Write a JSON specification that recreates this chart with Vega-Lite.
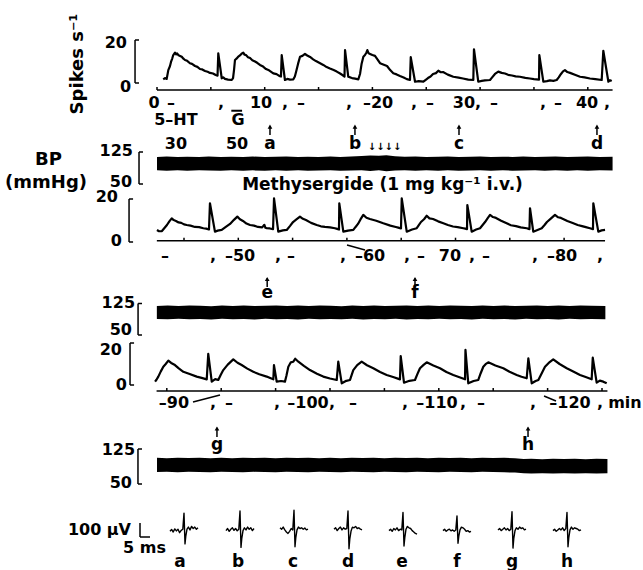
{
"$schema": "https://vega.github.io/schema/vega-lite/v6.json",
"padding": 0,
"spacing": 0,
"bounds": "flush",
"background": "white",
"config": {
 "view": {"stroke": null},
 "axis": {"disable": true},
 "legend": {"disable": true},
 "text": {"font": "DejaVu Sans", "fontWeight": "bold", "fontSize": 16, "color": "#000", "baseline": "middle"},
 "rule": {"color": "#000", "strokeWidth": 1.5},
 "line": {"color": "#000"},
 "area": {"color": "#000"},
 "point": {"color": "#000", "filled": true, "opacity": 1}
},
"datasets": {
 "r1": [{"t":0.58,"rate":1.7},{"t":0.74,"rate":2.3},{"t":0.9,"rate":1.9},{"t":1.05,"rate":6.0},{"t":1.2,"rate":7.8},{"t":1.3,"rate":9.8},{"t":1.42,"rate":11.5},{"t":1.51,"rate":13.0},{"t":1.67,"rate":14.1},{"t":1.78,"rate":13.3},{"t":1.86,"rate":13.8},{"t":2.0,"rate":12.9},{"t":2.14,"rate":12.6},{"t":2.3,"rate":12.2},{"t":2.45,"rate":11.3},{"t":2.6,"rate":10.7},{"t":2.8,"rate":10.3},{"t":3.06,"rate":9.2},{"t":3.25,"rate":8.9},{"t":3.53,"rate":7.9},{"t":3.75,"rate":7.5},{"t":3.99,"rate":6.5},{"t":4.2,"rate":6.3},{"t":4.46,"rate":5.6},{"t":4.7,"rate":5.2},{"t":4.92,"rate":4.7},{"t":5.2,"rate":4.4},{"t":5.45,"rate":3.7},{"t":5.62,"rate":3.4},{"t":5.69,"rate":13.8},{"t":6.01,"rate":2.2},{"t":6.15,"rate":2.6},{"t":6.31,"rate":1.9},{"t":6.6,"rate":1.6},{"t":6.94,"rate":1.4},{"t":7.06,"rate":2.3},{"t":7.15,"rate":6.0},{"t":7.24,"rate":10.7},{"t":7.38,"rate":11.3},{"t":7.52,"rate":12.1},{"t":7.7,"rate":12.8},{"t":7.85,"rate":13.6},{"t":8.01,"rate":14.1},{"t":8.12,"rate":13.2},{"t":8.26,"rate":13.0},{"t":8.45,"rate":12.0},{"t":8.64,"rate":11.6},{"t":8.85,"rate":10.6},{"t":9.1,"rate":10.0},{"t":9.3,"rate":9.4},{"t":9.56,"rate":8.4},{"t":9.8,"rate":7.8},{"t":10.12,"rate":6.5},{"t":10.4,"rate":5.9},{"t":10.8,"rate":4.5},{"t":11.1,"rate":4.1},{"t":11.35,"rate":3.3},{"t":11.51,"rate":3.0},{"t":11.58,"rate":13.0},{"t":11.88,"rate":1.4},{"t":12.1,"rate":1.9},{"t":12.35,"rate":1.6},{"t":12.66,"rate":1.7},{"t":12.8,"rate":3.0},{"t":12.91,"rate":5.1},{"t":13.1,"rate":9.0},{"t":13.28,"rate":12.2},{"t":13.5,"rate":12.6},{"t":13.74,"rate":13.5},{"t":13.95,"rate":12.8},{"t":14.21,"rate":12.1},{"t":14.5,"rate":11.0},{"t":14.76,"rate":10.2},{"t":15.1,"rate":9.3},{"t":15.44,"rate":8.4},{"t":15.75,"rate":7.4},{"t":16.06,"rate":6.7},{"t":16.4,"rate":6.0},{"t":16.69,"rate":5.3},{"t":17.0,"rate":4.4},{"t":17.25,"rate":3.6},{"t":17.41,"rate":3.0},{"t":17.46,"rate":15.3},{"t":17.76,"rate":2.9},{"t":17.95,"rate":2.6},{"t":18.11,"rate":2.3},{"t":18.4,"rate":2.0},{"t":18.69,"rate":1.7},{"t":18.85,"rate":4.2},{"t":19.0,"rate":9.0},{"t":19.16,"rate":12.2},{"t":19.31,"rate":13.0},{"t":19.45,"rate":14.2},{"t":19.53,"rate":15.3},{"t":19.65,"rate":13.8},{"t":19.78,"rate":13.5},{"t":20.0,"rate":13.0},{"t":20.24,"rate":12.6},{"t":20.5,"rate":10.8},{"t":20.71,"rate":9.2},{"t":21.0,"rate":8.6},{"t":21.36,"rate":7.9},{"t":21.65,"rate":6.0},{"t":21.94,"rate":4.5},{"t":22.25,"rate":4.0},{"t":22.56,"rate":3.3},{"t":22.9,"rate":2.6},{"t":23.2,"rate":1.8},{"t":23.49,"rate":1.4},{"t":23.56,"rate":12.0},{"t":23.96,"rate":0.6},{"t":24.3,"rate":0.9},{"t":24.73,"rate":0.6},{"t":24.95,"rate":1.5},{"t":25.16,"rate":2.3},{"t":25.4,"rate":3.0},{"t":25.63,"rate":4.2},{"t":25.9,"rate":4.6},{"t":26.12,"rate":5.7},{"t":26.35,"rate":5.0},{"t":26.56,"rate":5.1},{"t":27.0,"rate":3.9},{"t":27.51,"rate":2.9},{"t":28.0,"rate":2.5},{"t":28.41,"rate":2.1},{"t":28.9,"rate":1.6},{"t":29.37,"rate":1.4},{"t":29.43,"rate":15.7},{"t":29.83,"rate":0.6},{"t":30.15,"rate":1.0},{"t":30.45,"rate":1.2},{"t":30.92,"rate":1.4},{"t":31.1,"rate":2.5},{"t":31.38,"rate":4.2},{"t":31.69,"rate":5.3},{"t":32.0,"rate":4.7},{"t":32.31,"rate":4.4},{"t":32.6,"rate":3.8},{"t":32.96,"rate":3.5},{"t":33.3,"rate":3.1},{"t":33.7,"rate":2.9},{"t":34.2,"rate":2.4},{"t":34.63,"rate":2.1},{"t":35.0,"rate":1.8},{"t":35.47,"rate":1.6},{"t":35.5,"rate":13.0},{"t":35.87,"rate":0.6},{"t":36.2,"rate":0.9},{"t":36.49,"rate":1.2},{"t":36.8,"rate":1.0},{"t":37.11,"rate":1.4},{"t":37.3,"rate":2.6},{"t":37.51,"rate":4.2},{"t":37.7,"rate":5.4},{"t":37.88,"rate":6.0},{"t":38.1,"rate":5.1},{"t":38.35,"rate":4.7},{"t":38.8,"rate":3.8},{"t":39.28,"rate":2.9},{"t":39.7,"rate":2.6},{"t":40.2,"rate":2.1},{"t":40.7,"rate":1.8},{"t":41.29,"rate":1.4},{"t":41.44,"rate":15.0},{"t":41.91,"rate":0.6},{"t":42.05,"rate":1.3},{"t":42.22,"rate":0.9}],
 "r2": [{"t":42.51,"rate":5.6},{"t":42.7,"rate":5.0},{"t":42.97,"rate":5.1},{"t":43.2,"rate":6.5},{"t":43.43,"rate":7.9},{"t":43.65,"rate":9.6},{"t":43.87,"rate":11.0},{"t":44.05,"rate":10.2},{"t":44.26,"rate":9.8},{"t":44.5,"rate":9.1},{"t":44.75,"rate":8.9},{"t":45.0,"rate":8.2},{"t":45.25,"rate":7.9},{"t":45.6,"rate":7.6},{"t":46.01,"rate":7.0},{"t":46.4,"rate":6.9},{"t":46.78,"rate":6.4},{"t":47.05,"rate":6.2},{"t":47.3,"rate":5.8},{"t":47.39,"rate":18.0},{"t":47.85,"rate":4.8},{"t":48.1,"rate":5.3},{"t":48.47,"rate":5.6},{"t":48.85,"rate":7.0},{"t":49.24,"rate":8.4},{"t":49.6,"rate":10.3},{"t":49.91,"rate":11.8},{"t":50.15,"rate":10.6},{"t":50.43,"rate":9.8},{"t":50.75,"rate":8.6},{"t":51.08,"rate":7.9},{"t":51.45,"rate":7.6},{"t":51.81,"rate":7.0},{"t":52.2,"rate":6.8},{"t":52.4,"rate":8.0},{"t":52.5,"rate":6.6},{"t":52.62,"rate":6.4},{"t":52.9,"rate":6.3},{"t":53.2,"rate":6.0},{"t":53.29,"rate":20.3},{"t":53.68,"rate":4.8},{"t":54.1,"rate":5.4},{"t":54.46,"rate":5.6},{"t":54.75,"rate":7.4},{"t":55.04,"rate":9.3},{"t":55.35,"rate":10.5},{"t":55.68,"rate":11.8},{"t":55.95,"rate":10.8},{"t":56.23,"rate":10.2},{"t":56.7,"rate":8.9},{"t":57.22,"rate":7.9},{"t":57.6,"rate":7.3},{"t":57.98,"rate":7.0},{"t":58.45,"rate":6.8},{"t":58.9,"rate":6.4},{"t":59.1,"rate":6.1},{"t":59.27,"rate":5.8},{"t":59.3,"rate":18.0},{"t":59.67,"rate":4.8},{"t":60.1,"rate":5.3},{"t":60.59,"rate":5.6},{"t":60.8,"rate":7.0},{"t":61.02,"rate":8.4},{"t":61.25,"rate":10.5},{"t":61.51,"rate":12.6},{"t":61.8,"rate":11.3},{"t":62.12,"rate":10.7},{"t":62.7,"rate":9.9},{"t":63.35,"rate":8.7},{"t":64.0,"rate":7.6},{"t":64.5,"rate":7.0},{"t":64.73,"rate":6.7},{"t":64.98,"rate":6.3},{"t":65.05,"rate":20.3},{"t":65.51,"rate":4.8},{"t":66.0,"rate":5.8},{"t":66.43,"rate":6.4},{"t":66.62,"rate":7.8},{"t":66.82,"rate":9.3},{"t":67.1,"rate":10.6},{"t":67.35,"rate":12.2},{"t":67.6,"rate":11.0},{"t":67.93,"rate":10.7},{"t":68.4,"rate":9.6},{"t":68.88,"rate":8.7},{"t":69.3,"rate":7.9},{"t":69.77,"rate":7.2},{"t":70.2,"rate":6.9},{"t":70.72,"rate":6.4},{"t":70.9,"rate":6.2},{"t":71.06,"rate":6.0},{"t":71.09,"rate":17.2},{"t":71.49,"rate":4.8},{"t":71.9,"rate":5.8},{"t":72.26,"rate":6.4},{"t":72.5,"rate":7.9},{"t":72.72,"rate":9.3},{"t":72.95,"rate":11.0},{"t":73.18,"rate":12.6},{"t":73.45,"rate":11.6},{"t":73.73,"rate":11.2},{"t":74.2,"rate":9.9},{"t":74.71,"rate":8.7},{"t":75.1,"rate":7.8},{"t":75.57,"rate":7.4},{"t":76.0,"rate":6.8},{"t":76.56,"rate":6.4},{"t":76.81,"rate":6.0},{"t":76.86,"rate":15.7},{"t":77.16,"rate":4.8},{"t":77.55,"rate":5.6},{"t":77.94,"rate":6.4},{"t":78.2,"rate":7.9},{"t":78.42,"rate":9.3},{"t":78.8,"rate":11.0},{"t":79.16,"rate":12.6},{"t":79.45,"rate":11.5},{"t":79.71,"rate":11.2},{"t":80.3,"rate":9.8},{"t":80.85,"rate":8.7},{"t":81.25,"rate":7.9},{"t":81.65,"rate":7.4},{"t":82.0,"rate":6.9},{"t":82.38,"rate":6.4},{"t":82.66,"rate":6.0},{"t":82.69,"rate":18.0},{"t":83.15,"rate":4.8},{"t":83.45,"rate":5.4},{"t":83.77,"rate":5.6}],
 "r3": [{"t":83.92,"rate":1.6},{"t":84.05,"rate":2.5},{"t":84.22,"rate":4.0},{"t":84.45,"rate":6.5},{"t":84.68,"rate":8.7},{"t":84.9,"rate":10.0},{"t":85.14,"rate":11.6},{"t":85.4,"rate":10.5},{"t":85.75,"rate":9.5},{"t":86.1,"rate":7.9},{"t":86.52,"rate":6.3},{"t":87.1,"rate":5.2},{"t":87.75,"rate":4.0},{"t":88.2,"rate":3.4},{"t":88.67,"rate":2.7},{"t":88.81,"rate":14.8},{"t":89.13,"rate":1.6},{"t":89.45,"rate":2.8},{"t":89.73,"rate":2.4},{"t":89.95,"rate":4.8},{"t":90.19,"rate":7.1},{"t":90.6,"rate":9.7},{"t":91.11,"rate":12.2},{"t":91.5,"rate":10.6},{"t":91.88,"rate":9.5},{"t":92.4,"rate":7.8},{"t":92.95,"rate":6.3},{"t":93.5,"rate":5.1},{"t":94.18,"rate":4.0},{"t":94.5,"rate":3.3},{"t":94.79,"rate":2.7},{"t":94.85,"rate":9.5},{"t":95.1,"rate":1.6},{"t":95.5,"rate":1.9},{"t":95.86,"rate":1.6},{"t":96.0,"rate":4.5},{"t":96.17,"rate":8.7},{"t":96.4,"rate":10.8},{"t":96.63,"rate":11.1},{"t":96.8,"rate":12.5},{"t":97.09,"rate":11.1},{"t":97.6,"rate":9.1},{"t":98.16,"rate":7.1},{"t":98.8,"rate":5.4},{"t":99.38,"rate":4.0},{"t":100.0,"rate":3.1},{"t":100.62,"rate":2.4},{"t":100.76,"rate":11.1},{"t":101.08,"rate":0.8},{"t":101.5,"rate":2.0},{"t":101.84,"rate":2.4},{"t":102.14,"rate":7.1},{"t":102.5,"rate":9.5},{"t":102.91,"rate":11.1},{"t":103.4,"rate":9.4},{"t":103.98,"rate":8.0},{"t":104.6,"rate":6.2},{"t":105.21,"rate":4.8},{"t":105.8,"rate":3.8},{"t":106.43,"rate":2.7},{"t":106.5,"rate":13.8},{"t":106.8,"rate":1.1},{"t":107.3,"rate":2.0},{"t":107.81,"rate":2.4},{"t":108.05,"rate":5.4},{"t":108.27,"rate":8.0},{"t":108.6,"rate":9.6},{"t":108.89,"rate":10.8},{"t":109.5,"rate":9.3},{"t":110.11,"rate":8.0},{"t":110.7,"rate":6.2},{"t":111.33,"rate":4.8},{"t":111.9,"rate":3.7},{"t":112.41,"rate":2.7},{"t":112.45,"rate":16.7},{"t":112.71,"rate":0.8},{"t":113.2,"rate":1.9},{"t":113.63,"rate":2.4},{"t":113.85,"rate":5.6},{"t":114.09,"rate":8.7},{"t":114.3,"rate":9.9},{"t":114.55,"rate":10.8},{"t":115.2,"rate":9.3},{"t":115.93,"rate":8.0},{"t":116.5,"rate":6.3},{"t":117.16,"rate":4.8},{"t":117.6,"rate":3.9},{"t":118.08,"rate":3.2},{"t":118.23,"rate":12.7},{"t":118.54,"rate":0.8},{"t":118.9,"rate":1.9},{"t":119.15,"rate":2.4},{"t":119.45,"rate":5.5},{"t":119.76,"rate":8.7},{"t":120.1,"rate":10.5},{"t":120.52,"rate":12.2},{"t":121.1,"rate":10.0},{"t":121.76,"rate":8.0},{"t":122.4,"rate":6.3},{"t":122.98,"rate":4.8},{"t":123.5,"rate":3.8},{"t":124.05,"rate":2.7},{"t":124.15,"rate":13.0},{"t":124.51,"rate":1.1},{"t":124.8,"rate":2.1},{"t":125.12,"rate":1.6},{"t":125.43,"rate":0.8}],
 "bp1": [{"t":0,"sys":113,"dia":82},{"t":0.9,"sys":114.5,"dia":81},{"t":1.9,"sys":113,"dia":82.5},{"t":2.8,"sys":114,"dia":81},{"t":3.9,"sys":113.5,"dia":82},{"t":4.8,"sys":114.5,"dia":81.5},{"t":5.9,"sys":113,"dia":81},{"t":6.9,"sys":114,"dia":82.5},{"t":8.0,"sys":113.5,"dia":81},{"t":8.9,"sys":114.5,"dia":82},{"t":10.0,"sys":113,"dia":81},{"t":11.0,"sys":114,"dia":82},{"t":12.0,"sys":114.5,"dia":81},{"t":13.1,"sys":113,"dia":82.5},{"t":14.0,"sys":114,"dia":81},{"t":15.0,"sys":113.5,"dia":81.5},{"t":16.1,"sys":114.5,"dia":82},{"t":17.0,"sys":113,"dia":81},{"t":18.0,"sys":114.5,"dia":81.5},{"t":19.0,"sys":115.5,"dia":82},{"t":19.8,"sys":117,"dia":80.5},{"t":20.6,"sys":116,"dia":82},{"t":21.3,"sys":117.5,"dia":80},{"t":22.1,"sys":115,"dia":81.5},{"t":23.0,"sys":114,"dia":82},{"t":24.0,"sys":114.5,"dia":81},{"t":25.0,"sys":113,"dia":82},{"t":26.1,"sys":114,"dia":81},{"t":27.0,"sys":114.5,"dia":82.5},{"t":28.0,"sys":113,"dia":81},{"t":29.1,"sys":114,"dia":81.5},{"t":30.0,"sys":114.5,"dia":82},{"t":31.0,"sys":113,"dia":81},{"t":32.1,"sys":114,"dia":82.5},{"t":33.0,"sys":113.5,"dia":81},{"t":34.0,"sys":114.5,"dia":81.5},{"t":35.1,"sys":113,"dia":82},{"t":36.0,"sys":114,"dia":81},{"t":37.0,"sys":114.5,"dia":82},{"t":38.1,"sys":113,"dia":81},{"t":39.0,"sys":114,"dia":82.5},{"t":40.0,"sys":114.5,"dia":81},{"t":41.1,"sys":113.5,"dia":82},{"t":42.3,"sys":114,"dia":81.5}],
 "bp2": [{"t":42.5,"sys":119,"dia":88},{"t":43.5,"sys":120,"dia":87.5},{"t":44.5,"sys":119,"dia":88.5},{"t":45.5,"sys":120,"dia":87.5},{"t":46.5,"sys":119.5,"dia":88},{"t":47.5,"sys":118.5,"dia":87},{"t":48.5,"sys":120,"dia":88.5},{"t":49.5,"sys":119,"dia":87.5},{"t":50.5,"sys":120,"dia":88},{"t":51.5,"sys":119,"dia":87},{"t":52.5,"sys":119.5,"dia":88.5},{"t":53.5,"sys":120,"dia":87.5},{"t":54.5,"sys":119,"dia":88},{"t":55.5,"sys":120,"dia":87},{"t":56.5,"sys":119,"dia":88.5},{"t":57.5,"sys":120,"dia":87.5},{"t":58.5,"sys":119.5,"dia":88},{"t":59.5,"sys":118.5,"dia":87.5},{"t":60.5,"sys":120,"dia":88.5},{"t":61.5,"sys":119,"dia":87},{"t":62.5,"sys":120,"dia":88},{"t":63.5,"sys":119,"dia":87.5},{"t":64.5,"sys":119.5,"dia":88.5},{"t":65.5,"sys":120,"dia":87},{"t":66.5,"sys":119,"dia":88},{"t":67.5,"sys":120,"dia":87.5},{"t":68.5,"sys":119,"dia":88.5},{"t":69.5,"sys":120,"dia":87.5},{"t":70.5,"sys":119.5,"dia":88},{"t":71.5,"sys":119,"dia":87},{"t":72.5,"sys":120,"dia":88.5},{"t":73.5,"sys":119,"dia":87.5},{"t":74.5,"sys":120,"dia":88},{"t":75.5,"sys":119,"dia":87},{"t":76.5,"sys":119.5,"dia":88.5},{"t":77.5,"sys":120,"dia":87.5},{"t":78.5,"sys":119,"dia":88},{"t":79.5,"sys":120,"dia":87},{"t":80.5,"sys":119,"dia":88.5},{"t":81.5,"sys":120,"dia":87.5},{"t":82.5,"sys":119.5,"dia":88},{"t":83.8,"sys":119,"dia":87.5}],
 "bp3": [{"t":84.1,"sys":106,"dia":75.5},{"t":85,"sys":105,"dia":76},{"t":86,"sys":106,"dia":75},{"t":87,"sys":105.5,"dia":76},{"t":88,"sys":106.5,"dia":75.5},{"t":89,"sys":105,"dia":75},{"t":90,"sys":106,"dia":76},{"t":91,"sys":105,"dia":75.5},{"t":92,"sys":106.5,"dia":75},{"t":93,"sys":105.5,"dia":76},{"t":94,"sys":106,"dia":75.5},{"t":95,"sys":105,"dia":75},{"t":96,"sys":106,"dia":76},{"t":97,"sys":105.5,"dia":75.5},{"t":98,"sys":106.5,"dia":75},{"t":99,"sys":105,"dia":76},{"t":100,"sys":106,"dia":75.5},{"t":101,"sys":105,"dia":75},{"t":102,"sys":106,"dia":76},{"t":103,"sys":105.5,"dia":75.5},{"t":104,"sys":106.5,"dia":75},{"t":105,"sys":105,"dia":76},{"t":106,"sys":106,"dia":75.5},{"t":107,"sys":105.5,"dia":75},{"t":108,"sys":106,"dia":76},{"t":109,"sys":105,"dia":75.5},{"t":110,"sys":106.5,"dia":75},{"t":111,"sys":105.5,"dia":76},{"t":112,"sys":106,"dia":75.5},{"t":113,"sys":105,"dia":75},{"t":114,"sys":106,"dia":76},{"t":115,"sys":105.5,"dia":75.5},{"t":116,"sys":106,"dia":75},{"t":117,"sys":105,"dia":74.5},{"t":117.8,"sys":103.5,"dia":73},{"t":118.5,"sys":104,"dia":72.5},{"t":119.5,"sys":103,"dia":73},{"t":120.5,"sys":104,"dia":72.5},{"t":121.5,"sys":103.5,"dia":73},{"t":122.5,"sys":104,"dia":72.5},{"t":123.5,"sys":103,"dia":73},{"t":124.5,"sys":104,"dia":72.5},{"t":125.5,"sys":103.5,"dia":73}],
 "ticks1": [{"t":0},{"t":5},{"t":10},{"t":15},{"t":20},{"t":25},{"t":30},{"t":35},{"t":40}],
 "ticks2": [{"t":45},{"t":50},{"t":55},{"t":60},{"t":65},{"t":70},{"t":75},{"t":80}],
 "ticks3": [{"t":85},{"t":90},{"t":95},{"t":100},{"t":105},{"t":110},{"t":115},{"t":120},{"t":125}],
 "lab1": [{"t":-0.28,"label":"0"},{"t":1.3,"label":"–"},{"t":5.94,"label":","},{"t":9.66,"label":"10"},{"t":11.88,"label":","},{"t":13.37,"label":"–"},{"t":17.83,"label":","},{"t":20.52,"label":"–20"},{"t":23.86,"label":","},{"t":25.35,"label":"–"},{"t":28.78,"label":"30,"},{"t":31.29,"label":"–"},{"t":35.84,"label":","},{"t":37.23,"label":"–"},{"t":39.93,"label":"40"},{"t":41.78,"label":","}],
 "lab2": [{"t":43.25,"label":"–"},{"t":47.67,"label":","},{"t":50.16,"label":"–50"},{"t":53.66,"label":","},{"t":54.85,"label":"–"},{"t":59.64,"label":","},{"t":62.13,"label":"–60"},{"t":65.54,"label":","},{"t":66.83,"label":"–"},{"t":69.49,"label":"70"},{"t":71.52,"label":","},{"t":72.81,"label":"–"},{"t":77.32,"label":","},{"t":79.81,"label":"–80"},{"t":83.31,"label":","}],
 "lab3": [{"t":85.66,"label":"–90"},{"t":89.25,"label":","},{"t":90.72,"label":"–"},{"t":95.13,"label":","},{"t":97.98,"label":"–100"},{"t":100.18,"label":","},{"t":102.11,"label":"–"},{"t":106.89,"label":","},{"t":109.83,"label":"–110"},{"t":112.22,"label":","},{"t":113.88,"label":"–"},{"t":118.66,"label":","},{"t":122.06,"label":"–120"},{"t":124.82,"label":","},{"t":127.11,"label":"min"}],
 "drug1": [{"t":1.76,"label":"5–HT"},{"t":7.52,"label":"G"}],
 "dose1": [{"t":1.76,"label":"30"},{"t":7.43,"label":"50"}],
 "mark1": [{"t":10.49,"label":"a"},{"t":18.38,"label":"b"},{"t":28.04,"label":"c"},{"t":40.85,"label":"d"}],
 "mark2": [{"t":52.66,"label":"e"},{"t":66.27,"label":"f"}],
 "mark3": [{"t":89.61,"label":"g"},{"t":118.2,"label":"h"}],
 "inj1": [{"t":21.13,"label":"↓↓↓↓"}],
 "waves": [
  {"w":"a","t":85,"uv":5},{"w":"a","t":85.8,"uv":18},{"w":"a","t":86.6,"uv":0},{"w":"a","t":87.4,"uv":22},{"w":"a","t":88.2,"uv":8},{"w":"a","t":89,"uv":20},{"w":"a","t":89.8,"uv":-5},{"w":"a","t":90.6,"uv":12},{"w":"a","t":91.4,"uv":20},{"w":"a","t":92,"uv":135},{"w":"a","t":92.5,"uv":-85},{"w":"a","t":92.9,"uv":-30},{"w":"a","t":93.5,"uv":20},{"w":"a","t":94.2,"uv":35},{"w":"a","t":95,"uv":15},{"w":"a","t":95.8,"uv":40},{"w":"a","t":96.6,"uv":25},{"w":"a","t":97.4,"uv":35},{"w":"a","t":98.2,"uv":20},{"w":"a","t":99,"uv":30},
  {"w":"b","t":113,"uv":10},{"w":"b","t":113.8,"uv":25},{"w":"b","t":114.6,"uv":5},{"w":"b","t":115.4,"uv":20},{"w":"b","t":116.2,"uv":30},{"w":"b","t":117,"uv":12},{"w":"b","t":117.8,"uv":25},{"w":"b","t":118.6,"uv":8},{"w":"b","t":119.4,"uv":20},{"w":"b","t":120,"uv":150},{"w":"b","t":120.5,"uv":-110},{"w":"b","t":120.9,"uv":-45},{"w":"b","t":121.5,"uv":10},{"w":"b","t":122.2,"uv":30},{"w":"b","t":123,"uv":15},{"w":"b","t":123.8,"uv":35},{"w":"b","t":124.6,"uv":20},{"w":"b","t":125.4,"uv":30},{"w":"b","t":126.2,"uv":10},{"w":"b","t":127,"uv":25},
  {"w":"c","t":140,"uv":30},{"w":"c","t":140.8,"uv":20},{"w":"c","t":141.6,"uv":35},{"w":"c","t":142.4,"uv":15},{"w":"c","t":143.2,"uv":0},{"w":"c","t":144,"uv":-10},{"w":"c","t":144.8,"uv":5},{"w":"c","t":145.6,"uv":25},{"w":"c","t":146.4,"uv":15},{"w":"c","t":147,"uv":155},{"w":"c","t":147.5,"uv":-105},{"w":"c","t":147.9,"uv":-40},{"w":"c","t":148.5,"uv":15},{"w":"c","t":149.2,"uv":35},{"w":"c","t":150,"uv":25},{"w":"c","t":150.8,"uv":30},{"w":"c","t":151.6,"uv":20},{"w":"c","t":152.4,"uv":28},{"w":"c","t":153.2,"uv":15},{"w":"c","t":154,"uv":20},
  {"w":"d","t":167,"uv":20},{"w":"d","t":167.8,"uv":30},{"w":"d","t":168.6,"uv":10},{"w":"d","t":169.4,"uv":25},{"w":"d","t":170.2,"uv":35},{"w":"d","t":171,"uv":15},{"w":"d","t":171.8,"uv":30},{"w":"d","t":172.6,"uv":20},{"w":"d","t":173.4,"uv":25},{"w":"d","t":174,"uv":150},{"w":"d","t":174.5,"uv":-120},{"w":"d","t":174.9,"uv":-50},{"w":"d","t":175.5,"uv":5},{"w":"d","t":176.2,"uv":35},{"w":"d","t":177,"uv":30},{"w":"d","t":177.8,"uv":40},{"w":"d","t":178.6,"uv":25},{"w":"d","t":179.4,"uv":30},{"w":"d","t":180.2,"uv":20},{"w":"d","t":181,"uv":15},
  {"w":"e","t":194.5,"uv":10},{"w":"e","t":195.3,"uv":20},{"w":"e","t":196.1,"uv":5},{"w":"e","t":196.9,"uv":25},{"w":"e","t":197.7,"uv":15},{"w":"e","t":198.5,"uv":30},{"w":"e","t":199.3,"uv":10},{"w":"e","t":200.1,"uv":20},{"w":"e","t":200.9,"uv":15},{"w":"e","t":201.5,"uv":140},{"w":"e","t":202,"uv":-100},{"w":"e","t":202.4,"uv":-40},{"w":"e","t":203,"uv":20},{"w":"e","t":203.7,"uv":40},{"w":"e","t":204.5,"uv":30},{"w":"e","t":205.3,"uv":25},{"w":"e","t":206.1,"uv":10},{"w":"e","t":206.9,"uv":0},{"w":"e","t":207.7,"uv":-10},{"w":"e","t":208.5,"uv":-15},
  {"w":"f","t":221.5,"uv":10},{"w":"f","t":222.3,"uv":20},{"w":"f","t":223.1,"uv":5},{"w":"f","t":223.9,"uv":15},{"w":"f","t":224.7,"uv":20},{"w":"f","t":225.5,"uv":8},{"w":"f","t":226.3,"uv":15},{"w":"f","t":227.1,"uv":5},{"w":"f","t":227.9,"uv":15},{"w":"f","t":228.5,"uv":115},{"w":"f","t":229,"uv":-80},{"w":"f","t":229.4,"uv":-30},{"w":"f","t":230,"uv":15},{"w":"f","t":230.7,"uv":35},{"w":"f","t":231.5,"uv":30},{"w":"f","t":232.3,"uv":20},{"w":"f","t":233.1,"uv":5},{"w":"f","t":233.9,"uv":10},{"w":"f","t":234.7,"uv":0},{"w":"f","t":235.5,"uv":5},
  {"w":"g","t":249,"uv":15},{"w":"g","t":249.8,"uv":25},{"w":"g","t":250.6,"uv":10},{"w":"g","t":251.4,"uv":20},{"w":"g","t":252.2,"uv":30},{"w":"g","t":253,"uv":15},{"w":"g","t":253.8,"uv":25},{"w":"g","t":254.6,"uv":10},{"w":"g","t":255.4,"uv":20},{"w":"g","t":256,"uv":145},{"w":"g","t":256.5,"uv":-115},{"w":"g","t":256.9,"uv":-45},{"w":"g","t":257.5,"uv":10},{"w":"g","t":258.2,"uv":30},{"w":"g","t":259,"uv":20},{"w":"g","t":259.8,"uv":35},{"w":"g","t":260.6,"uv":25},{"w":"g","t":261.4,"uv":30},{"w":"g","t":262.2,"uv":15},{"w":"g","t":263,"uv":20},
  {"w":"h","t":276.5,"uv":10},{"w":"h","t":277.3,"uv":20},{"w":"h","t":278.1,"uv":5},{"w":"h","t":278.9,"uv":15},{"w":"h","t":279.7,"uv":25},{"w":"h","t":280.5,"uv":15},{"w":"h","t":281.3,"uv":30},{"w":"h","t":282.1,"uv":10},{"w":"h","t":282.9,"uv":25},{"w":"h","t":283.5,"uv":140},{"w":"h","t":284,"uv":-105},{"w":"h","t":284.4,"uv":-40},{"w":"h","t":285,"uv":15},{"w":"h","t":285.7,"uv":35},{"w":"h","t":286.5,"uv":20},{"w":"h","t":287.3,"uv":30},{"w":"h","t":288.1,"uv":25},{"w":"h","t":288.9,"uv":20},{"w":"h","t":289.7,"uv":10},{"w":"h","t":290.5,"uv":15}
 ],
 "wlab": [{"t":90,"label":"a"},{"t":119,"label":"b"},{"t":146.5,"label":"c"},{"t":174,"label":"d"},{"t":201,"label":"e"},{"t":228.5,"label":"f"},{"t":256,"label":"g"},{"t":283.5,"label":"h"}],
 "one": [{"n": 1}]
},
"vconcat": [
 {
  "width": 643, "height": 152,
  "layer": [
   {"data": {"name": "r1"}, "mark": {"type": "line", "strokeWidth": 2.2, "strokeJoin": "round"}, "encoding": {"x": {"field": "t", "type": "quantitative", "scale": {"domain": [-14.578, 45.125], "nice": false, "zero": false}}, "y": {"field": "rate", "type": "quantitative", "scale": {"domain": [-32.09, 38.6], "nice": false, "zero": false}}}},
   {"data": {"name": "one"}, "mark": "rule", "encoding": {"x": {"datum": 0}, "x2": {"datum": 42.3}, "y": {"datum": -3.26}}},
   {"data": {"name": "ticks1"}, "mark": "rule", "encoding": {"x": {"field": "t", "type": "quantitative"}, "y": {"datum": -3.26}, "y2": {"datum": -1.86}}},
   {"data": {"name": "lab1"}, "mark": {"type": "text"}, "encoding": {"x": {"field": "t", "type": "quantitative"}, "text": {"field": "label"}, "y": {"datum": -9.3}}},
   {"data": {"name": "one"}, "mark": {"type": "rule", "strokeWidth": 2}, "encoding": {"x": {"datum": 6.9}, "x2": {"datum": 7.9}, "y": {"datum": -12.9}}},
   {"data": {"name": "drug1"}, "mark": {"type": "text"}, "encoding": {"x": {"field": "t", "type": "quantitative"}, "text": {"field": "label"}, "y": {"datum": -17.44}}},
   {"data": {"name": "dose1"}, "mark": {"type": "text"}, "encoding": {"x": {"field": "t", "type": "quantitative"}, "text": {"field": "label"}, "y": {"datum": -28.6}}},
   {"data": {"name": "mark1"}, "mark": "rule", "encoding": {"x": {"field": "t", "type": "quantitative"}, "y": {"datum": -20.0}, "y2": {"datum": -24.19}}},
   {"data": {"name": "mark1"}, "mark": {"type": "point", "shape": "triangle-up", "size": 22}, "encoding": {"x": {"field": "t", "type": "quantitative"}, "y": {"datum": -20.3}}},
   {"data": {"name": "mark1"}, "mark": {"type": "text", "fontSize": 17}, "encoding": {"x": {"field": "t", "type": "quantitative"}, "text": {"field": "label"}, "y": {"datum": -28.6}}},
   {"data": {"name": "inj1"}, "mark": {"type": "text", "fontSize": 10}, "encoding": {"x": {"field": "t", "type": "quantitative"}, "text": {"field": "label"}, "y": {"datum": -29.77}}},
   {"data": {"name": "one"}, "mark": "rule", "encoding": {"x": {"datum": -2.04}, "y": {"datum": 0}, "y2": {"datum": 20}}},
   {"data": {"name": "one"}, "mark": "rule", "encoding": {"x": {"datum": -2.04}, "x2": {"datum": -1.67}, "y": {"datum": 20}}},
   {"data": {"name": "one"}, "mark": "rule", "encoding": {"x": {"datum": -2.04}, "x2": {"datum": -1.67}, "y": {"datum": 0}}},
   {"data": {"name": "one"}, "mark": {"type": "text", "align": "right"}, "encoding": {"text": {"value": "20"}, "x": {"datum": -2.79}, "y": {"datum": 18.6}}},
   {"data": {"name": "one"}, "mark": {"type": "text", "align": "right"}, "encoding": {"text": {"value": "0"}, "x": {"datum": -2.41}, "y": {"datum": -1.86}}},
   {"data": {"name": "one"}, "mark": {"type": "text", "angle": 270, "fontSize": 18, "align": "center"}, "encoding": {"text": {"value": "Spikes s⁻¹"}, "x": {"datum": -7.38}, "y": {"datum": 8.84}}}
  ]
 },
 {
  "width": 643, "height": 39,
  "layer": [
   {"data": {"name": "bp1"}, "mark": {"type": "area"}, "encoding": {"x": {"field": "t", "type": "quantitative", "scale": {"domain": [-14.578, 45.125], "nice": false, "zero": false}}, "y": {"field": "sys", "type": "quantitative", "scale": {"domain": [33.6, 125], "nice": false, "zero": false}}, "y2": {"field": "dia"}}},
   {"data": {"name": "one"}, "mark": "rule", "encoding": {"x": {"datum": -1.67}, "y": {"datum": 50}, "y2": {"datum": 125}}},
   {"data": {"name": "one"}, "mark": "rule", "encoding": {"x": {"datum": -1.67}, "x2": {"datum": -1.3}, "y": {"datum": 125}}},
   {"data": {"name": "one"}, "mark": "rule", "encoding": {"x": {"datum": -1.67}, "x2": {"datum": -1.3}, "y": {"datum": 50}}},
   {"data": {"name": "one"}, "mark": {"type": "text", "align": "right"}, "encoding": {"text": {"value": "125"}, "x": {"datum": -2.23}, "y": {"datum": 127.3}}},
   {"data": {"name": "one"}, "mark": {"type": "text", "align": "right"}, "encoding": {"text": {"value": "50"}, "x": {"datum": -2.32}, "y": {"datum": 54.5}}},
   {"data": {"name": "one"}, "mark": {"type": "text", "fontSize": 18}, "encoding": {"text": {"value": "BP"}, "x": {"datum": -10.07}, "y": {"datum": 106.25}}},
   {"data": {"name": "one"}, "mark": {"type": "text", "fontSize": 18}, "encoding": {"text": {"value": "(mmHg)"}, "x": {"datum": -10.3}, "y": {"datum": 51.2}}},
   {"data": {"name": "one"}, "mark": {"type": "text", "fontSize": 17}, "encoding": {"text": {"value": "Methysergide (1 mg kg⁻¹ i.v.)"}, "x": {"datum": 20.94}, "y": {"datum": 47.6}}}
  ]
 },
 {
  "width": 643, "height": 108,
  "layer": [
   {"data": {"name": "r2"}, "mark": {"type": "line", "strokeWidth": 2.2, "strokeJoin": "round"}, "encoding": {"x": {"field": "t", "type": "quantitative", "scale": {"domain": [28.057, 87.265], "nice": false, "zero": false}}, "y": {"field": "rate", "type": "quantitative", "scale": {"domain": [-26.51, 23.72], "nice": false, "zero": false}}}},
   {"data": {"name": "one"}, "mark": "rule", "encoding": {"x": {"datum": 42.5}, "x2": {"datum": 83.77}, "y": {"datum": 0.6}}},
   {"data": {"name": "ticks2"}, "mark": "rule", "encoding": {"x": {"field": "t", "type": "quantitative"}, "y": {"datum": 0.6}, "y2": {"datum": 2.0}}},
   {"data": {"name": "lab2"}, "mark": {"type": "text"}, "encoding": {"x": {"field": "t", "type": "quantitative"}, "text": {"field": "label"}, "y": {"datum": -6.51}}},
   {"data": {"name": "one"}, "mark": "rule", "encoding": {"x": {"datum": 60.01}, "x2": {"datum": 61.67}, "y": {"datum": -1.4}, "y2": {"datum": -3.72}}},
   {"data": {"name": "mark2"}, "mark": "rule", "encoding": {"x": {"field": "t", "type": "quantitative"}, "y": {"datum": -16.9}, "y2": {"datum": -20.93}}},
   {"data": {"name": "mark2"}, "mark": {"type": "point", "shape": "triangle-up", "size": 22}, "encoding": {"x": {"field": "t", "type": "quantitative"}, "y": {"datum": -17.2}}},
   {"data": {"name": "mark2"}, "mark": {"type": "text", "fontSize": 17}, "encoding": {"x": {"field": "t", "type": "quantitative"}, "text": {"field": "label"}, "y": {"datum": -23.72}}},
   {"data": {"name": "one"}, "mark": "rule", "encoding": {"x": {"datum": 39.94}, "y": {"datum": 0}, "y2": {"datum": 20}}},
   {"data": {"name": "one"}, "mark": "rule", "encoding": {"x": {"datum": 39.94}, "x2": {"datum": 40.31}, "y": {"datum": 20}}},
   {"data": {"name": "one"}, "mark": "rule", "encoding": {"x": {"datum": 39.94}, "x2": {"datum": 40.31}, "y": {"datum": 0}}},
   {"data": {"name": "one"}, "mark": {"type": "text", "align": "right"}, "encoding": {"text": {"value": "20"}, "x": {"datum": 38.92}, "y": {"datum": 20.93}}},
   {"data": {"name": "one"}, "mark": {"type": "text", "align": "right"}, "encoding": {"text": {"value": "0"}, "x": {"datum": 39.29}, "y": {"datum": 0.47}}}
  ]
 },
 {
  "width": 643, "height": 38,
  "layer": [
   {"data": {"name": "bp2"}, "mark": {"type": "area"}, "encoding": {"x": {"field": "t", "type": "quantitative", "scale": {"domain": [28.057, 87.265], "nice": false, "zero": false}}, "y": {"field": "sys", "type": "quantitative", "scale": {"domain": [45.24, 135.71], "nice": false, "zero": false}}, "y2": {"field": "dia"}}},
   {"data": {"name": "one"}, "mark": "rule", "encoding": {"x": {"datum": 40.77}, "y": {"datum": 50}, "y2": {"datum": 125}}},
   {"data": {"name": "one"}, "mark": "rule", "encoding": {"x": {"datum": 40.77}, "x2": {"datum": 41.13}, "y": {"datum": 125}}},
   {"data": {"name": "one"}, "mark": "rule", "encoding": {"x": {"datum": 40.77}, "x2": {"datum": 41.13}, "y": {"datum": 50}}},
   {"data": {"name": "one"}, "mark": {"type": "text", "align": "right"}, "encoding": {"text": {"value": "125"}, "x": {"datum": 40.49}, "y": {"datum": 126.2}}},
   {"data": {"name": "one"}, "mark": {"type": "text", "align": "right"}, "encoding": {"text": {"value": "50"}, "x": {"datum": 40.21}, "y": {"datum": 62}}}
  ]
 },
 {
  "width": 643, "height": 114,
  "layer": [
   {"data": {"name": "r3"}, "mark": {"type": "line", "strokeWidth": 2.2, "strokeJoin": "round"}, "encoding": {"x": {"field": "t", "type": "quantitative", "scale": {"domain": [69.669, 128.768], "nice": false, "zero": false}}, "y": {"field": "rate", "type": "quantitative", "scale": {"domain": [-31.43, 22.86], "nice": false, "zero": false}}}},
   {"data": {"name": "one"}, "mark": "rule", "encoding": {"x": {"datum": 84.06}, "x2": {"datum": 125.5}, "y": {"datum": -2.857}}},
   {"data": {"name": "ticks3"}, "mark": "rule", "encoding": {"x": {"field": "t", "type": "quantitative"}, "y": {"datum": -2.857}, "y2": {"datum": -1.43}}},
   {"data": {"name": "lab3"}, "mark": {"type": "text"}, "encoding": {"x": {"field": "t", "type": "quantitative"}, "text": {"field": "label"}, "y": {"datum": -8.57}}},
   {"data": {"name": "one"}, "mark": "rule", "encoding": {"x": {"datum": 87.41}, "x2": {"datum": 89.89}, "y": {"datum": -8.1}, "y2": {"datum": -4.76}}},
   {"data": {"name": "one"}, "mark": "rule", "encoding": {"x": {"datum": 119.67}, "x2": {"datum": 120.77}, "y": {"datum": -5.24}, "y2": {"datum": -7.62}}},
   {"data": {"name": "mark3"}, "mark": "rule", "encoding": {"x": {"field": "t", "type": "quantitative"}, "y": {"datum": -20.4}, "y2": {"datum": -24.76}}},
   {"data": {"name": "mark3"}, "mark": {"type": "point", "shape": "triangle-up", "size": 22}, "encoding": {"x": {"field": "t", "type": "quantitative"}, "y": {"datum": -20.71}}},
   {"data": {"name": "mark3"}, "mark": {"type": "text", "fontSize": 17}, "encoding": {"x": {"field": "t", "type": "quantitative"}, "text": {"field": "label"}, "y": {"datum": -28.81}}},
   {"data": {"name": "one"}, "mark": "rule", "encoding": {"x": {"datum": 81.62}, "y": {"datum": 0}, "y2": {"datum": 20}}},
   {"data": {"name": "one"}, "mark": "rule", "encoding": {"x": {"datum": 81.62}, "x2": {"datum": 81.99}, "y": {"datum": 20}}},
   {"data": {"name": "one"}, "mark": "rule", "encoding": {"x": {"datum": 81.62}, "x2": {"datum": 81.99}, "y": {"datum": 0}}},
   {"data": {"name": "one"}, "mark": {"type": "text", "align": "right"}, "encoding": {"text": {"value": "20"}, "x": {"datum": 80.88}, "y": {"datum": 16.9}}},
   {"data": {"name": "one"}, "mark": {"type": "text", "align": "right"}, "encoding": {"text": {"value": "0"}, "x": {"datum": 81.34}, "y": {"datum": 0}}}
  ]
 },
 {
  "width": 643, "height": 49,
  "layer": [
   {"data": {"name": "bp3"}, "mark": {"type": "area"}, "encoding": {"x": {"field": "t", "type": "quantitative", "scale": {"domain": [69.669, 128.768], "nice": false, "zero": false}}, "y": {"field": "sys", "type": "quantitative", "scale": {"domain": [15.71, 120.71], "nice": false, "zero": false}}, "y2": {"field": "dia"}}},
   {"data": {"name": "one"}, "mark": "rule", "encoding": {"x": {"datum": 82.35}, "y": {"datum": 50}, "y2": {"datum": 125}}},
   {"data": {"name": "one"}, "mark": "rule", "encoding": {"x": {"datum": 82.35}, "x2": {"datum": 82.72}, "y": {"datum": 125}}},
   {"data": {"name": "one"}, "mark": "rule", "encoding": {"x": {"datum": 82.35}, "x2": {"datum": 82.72}, "y": {"datum": 50}}},
   {"data": {"name": "one"}, "mark": {"type": "text", "align": "right"}, "encoding": {"text": {"value": "125"}, "x": {"datum": 82.08}, "y": {"datum": 122.9}}},
   {"data": {"name": "one"}, "mark": {"type": "text", "align": "right"}, "encoding": {"text": {"value": "50"}, "x": {"datum": 81.8}, "y": {"datum": 52.1}}}
  ]
 },
 {
  "width": 643, "height": 70,
  "layer": [
   {"data": {"name": "waves"}, "mark": {"type": "line", "strokeWidth": 1.4, "strokeJoin": "round"}, "encoding": {"x": {"field": "t", "type": "quantitative", "scale": {"domain": [0, 321.5], "nice": false, "zero": false}}, "y": {"field": "uv", "type": "quantitative", "scale": {"domain": [-271.4, 228.6], "nice": false, "zero": false}}, "detail": {"field": "w"}}},
   {"data": {"name": "one"}, "mark": "rule", "encoding": {"x": {"datum": 70}, "y": {"datum": -35.7}, "y2": {"datum": 64.3}}},
   {"data": {"name": "one"}, "mark": "rule", "encoding": {"x": {"datum": 70}, "x2": {"datum": 75}, "y": {"datum": -35.7}}},
   {"data": {"name": "one"}, "mark": {"type": "text", "align": "right"}, "encoding": {"text": {"value": "100 µV"}, "x": {"datum": 65.5}, "y": {"datum": 14}}},
   {"data": {"name": "one"}, "mark": {"type": "text"}, "encoding": {"text": {"value": "5 ms"}, "x": {"datum": 72.25}, "y": {"datum": -114}}},
   {"data": {"name": "wlab"}, "mark": {"type": "text", "fontSize": 17}, "encoding": {"x": {"field": "t", "type": "quantitative"}, "text": {"field": "label"}, "y": {"datum": -214}}}
  ]
 }
]
}
